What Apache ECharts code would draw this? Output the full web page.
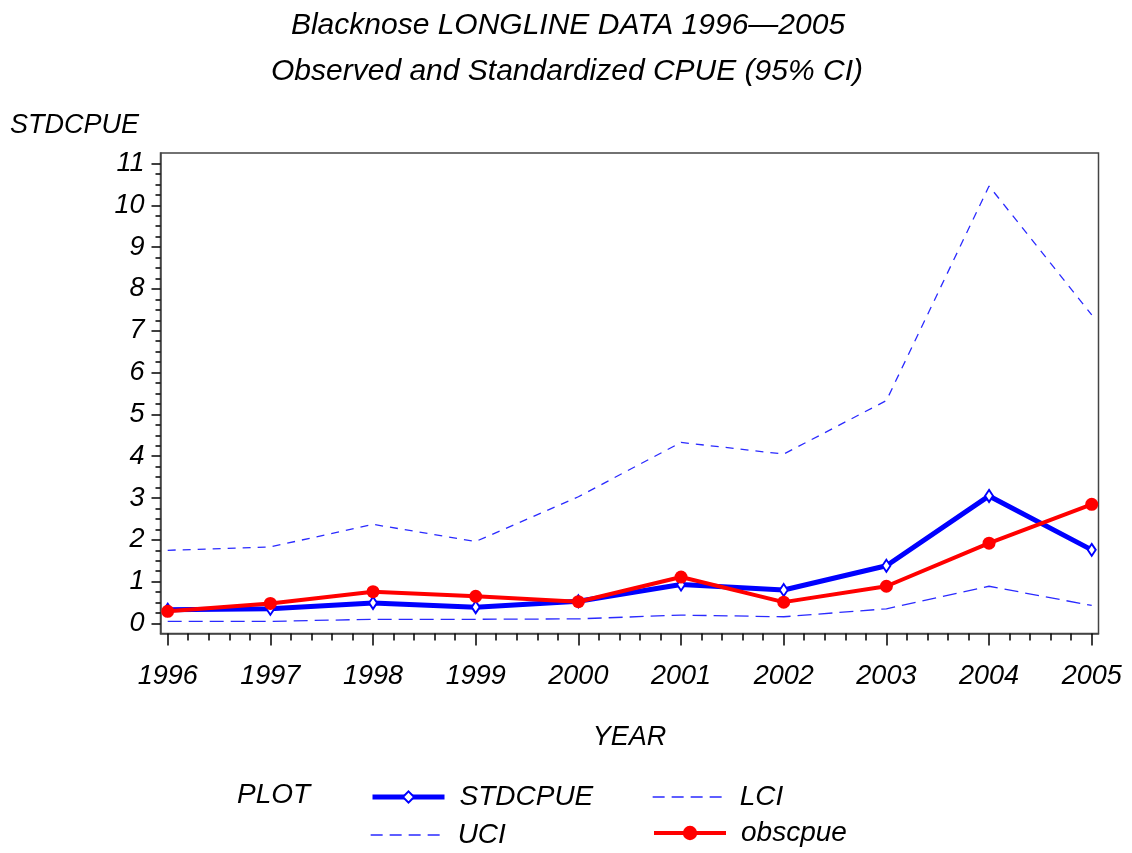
<!DOCTYPE html>
<html>
<head>
<meta charset="utf-8">
<script src="https://cdn.jsdelivr.net/npm/echarts@6/dist/echarts.min.js"></script>
<style>
html,body{margin:0;padding:0;background:#fff;}
#chart{width:1132px;height:853px;}
</style>
</head>
<body>
<div id="chart"></div>
<script>
const years = [1996, 1997, 1998, 1999, 2000, 2001, 2002, 2003, 2004, 2005];
const stdcpue = [0.33, 0.35, 0.49, 0.39, 0.53, 0.93, 0.80, 1.38, 3.05, 1.76];
const lci = [0.05, 0.05, 0.10, 0.10, 0.11, 0.20, 0.16, 0.35, 0.89, 0.43];
const uci = [1.75, 1.83, 2.37, 1.96, 3.03, 4.33, 4.05, 5.33, 10.46, 7.38];
const obscpue = [0.29, 0.48, 0.76, 0.65, 0.52, 1.11, 0.51, 0.89, 1.92, 2.85];
const yTicks = [0, 1, 2, 3, 4, 5, 6, 7, 8, 9, 10, 11];
const titleLines = ['Blacknose LONGLINE DATA 1996\u20142005', 'Observed and Standardized CPUE (95% CI)'];

const FONT = '"Liberation Sans", Arial, sans-serif';
const txt = (size) => ({fontFamily: FONT, fontStyle: 'italic', fontSize: size, color: '#000'});

const pairs = (vals) => years.map((y, i) => [y, vals[i]]);

const xMinor = [];
for (let k = 0; k <= 45; k++) { if (k % 5 !== 0) xMinor.push(1996 + k * 0.2); }
const yMinor = [];
for (let k = 0; k <= 44; k++) { if (k % 4 !== 0) yMinor.push(k * 0.25); }

const XMIN = 1995.93, XMAX = 2005.066, YMIN = -0.24, YMAX = 11.25;
const CI_COLOR = '#2a2aff';

const legendBase = (name, left, centerY, h, lineStyle, itemStyle) => ({
  data: [{name: name, itemStyle: itemStyle}], left: left, top: centerY - h / 2, padding: 0,
  itemWidth: 72, itemHeight: h, lineStyle: lineStyle,
  textStyle: Object.assign(txt(28), {padding: [10, 0, 0, 10]})
});

const chart = echarts.init(document.getElementById('chart'), null, {renderer: 'canvas'});
chart.setOption({
  backgroundColor: '#fff',
  animation: false,
  title: [
    {text: titleLines[0], left: 563, top: 6, textAlign: 'center', textStyle: Object.assign(txt(30), {fontWeight: 'normal'})},
    {text: titleLines[1], left: 562, top: 52, textAlign: 'center', textStyle: Object.assign(txt(30), {fontWeight: 'normal'})}
  ],
  grid: {left: 160.5, top: 153, right: 33.5, bottom: 219.5, show: true, borderColor: '#444', borderWidth: 1.5, backgroundColor: '#fff'},
  xAxis: [
    {
      type: 'value', min: XMIN, max: XMAX, position: 'bottom',
      axisLine: {show: true, onZero: false, lineStyle: {color: '#444', width: 1.5}},
      axisTick: {show: true, customValues: years, length: 12, lineStyle: {color: '#000', width: 1.5}},
      axisLabel: {customValues: years, formatter: (v) => String(Math.round(v)), margin: 29, ...txt(27)},
      splitLine: {show: false},
      name: 'YEAR', nameLocation: 'middle', nameGap: 90, nameTextStyle: txt(27)
    },
    {
      type: 'value', min: XMIN, max: XMAX, position: 'bottom',
      axisLine: {show: false, onZero: false},
      axisTick: {show: true, customValues: xMinor, length: 7, lineStyle: {color: '#000', width: 1.5}},
      axisLabel: {show: false},
      splitLine: {show: false}
    }
  ],
  yAxis: [
    {
      type: 'value', min: YMIN, max: YMAX, position: 'left',
      axisLine: {show: true, onZero: false, lineStyle: {color: '#444', width: 1.5}},
      axisTick: {show: true, customValues: yTicks, length: 9, lineStyle: {color: '#000', width: 1.5}},
      axisLabel: {customValues: yTicks, formatter: (v) => String(Math.round(v)), margin: 16, ...txt(27)},
      splitLine: {show: false}
    },
    {
      type: 'value', min: YMIN, max: YMAX, position: 'left',
      axisLine: {show: false, onZero: false},
      axisTick: {show: true, customValues: yMinor, length: 5, lineStyle: {color: '#000', width: 1.5}},
      axisLabel: {show: false},
      splitLine: {show: false}
    }
  ],
  legend: [
    legendBase('STDCPUE', 370, 790, 14, {width: 5}, undefined),
    legendBase('LCI', 652, 790, 14, {width: 1.3, type: [12, 7]}, {opacity: 0}),
    legendBase('UCI', 370, 828, 14, {width: 1.3, type: [12, 7]}, {opacity: 0}),
    legendBase('obscpue', 652, 828, 18, {width: 4}, undefined)
  ],
  graphic: [
    {type: 'text', left: 10, top: 112, style: {text: 'STDCPUE', font: 'italic 27px ' + FONT, fill: '#000'}},
    {type: 'text', left: 237, top: 781, style: {text: 'PLOT', font: 'italic 28px ' + FONT, fill: '#000'}}
  ],
  series: [
    {name: 'UCI', type: 'line', data: pairs(uci), symbol: 'none',
     lineStyle: {color: CI_COLOR, width: 1.3, type: [8, 7]}, itemStyle: {color: CI_COLOR}, z: 2},
    {name: 'LCI', type: 'line', data: pairs(lci), symbol: 'none',
     lineStyle: {color: CI_COLOR, width: 1.3, type: [14, 7]}, itemStyle: {color: CI_COLOR}, z: 2},
    {name: 'STDCPUE', type: 'line', data: pairs(stdcpue), symbol: 'emptyDiamond', symbolSize: [8, 12],
     lineStyle: {color: '#0000ff', width: 5}, itemStyle: {color: '#0000ff', borderWidth: 1}, z: 3},
    {name: 'obscpue', type: 'line', data: pairs(obscpue), symbol: 'circle', symbolSize: 13,
     lineStyle: {color: '#ff0000', width: 4}, itemStyle: {color: '#ff0000'}, z: 4}
  ]
});
</script>
</body>
</html>
